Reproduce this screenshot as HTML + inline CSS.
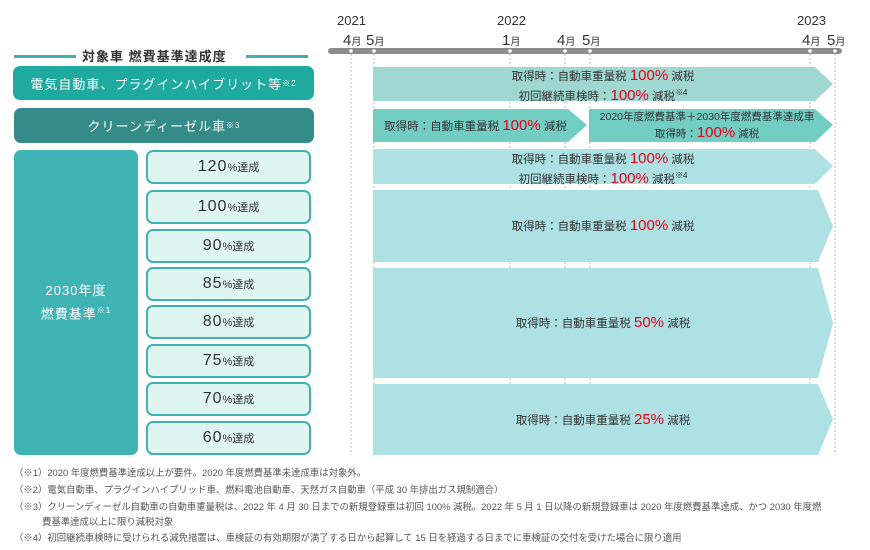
<!DOCTYPE html>
<html><head><meta charset="utf-8"><style>
body{margin:0;width:870px;height:550px;background:#fff;position:relative;overflow:hidden;font-family:"Liberation Sans","Noto Sans CJK JP",sans-serif;color:#333}
.a{position:absolute}
.box{position:absolute;color:#fff;display:flex;align-items:center;justify-content:center;border-radius:7px;font-size:13px;letter-spacing:1px}
.sm{position:absolute;left:146px;width:161px;height:30px;background:#dff5ef;border:2px solid #3fb1b0;border-radius:7px;display:flex;align-items:center;justify-content:center;font-size:16px;color:#333;letter-spacing:1px}
.sm small{font-size:11px;letter-spacing:0}
sup{font-size:8px}
.t{position:absolute;text-align:center;font-size:11.5px;color:#333;line-height:15px}
.r{color:#e6001a;font-size:15px}
.fn{position:absolute;left:14px;font-size:9.4px;color:#555;white-space:nowrap}
</style></head><body>
<svg class="a" style="left:0;top:0" width="870" height="460">
<rect x="328" y="48" width="514" height="6" rx="3" fill="#8c8c8c"/>
<g id="ticks"></g>
<polygon points="373,67 815,67 833,84 815,101 373,101" fill="#9fd8d1"/>
<polygon points="373,109 568,109 587,125 568,142 373,142" fill="#72cec3"/>
<polygon points="589,109 815,109 833,125 815,142 589,142" fill="#72cec3"/>
<polygon points="373,149 815,149 833,166 815,184 373,184" fill="#ade1e3"/>
<polygon points="373,190 818,190 833,226 818,262 373,262" fill="#ade1e3"/>
<polygon points="373,268 818,268 833,323 818,378 373,378" fill="#ade1e3"/>
<polygon points="373,384 818,384 833,419 818,455 373,455" fill="#ade1e3"/>
</svg>
<script>
const tickX=[351,374,510,565,590,810,835];
const tickLabels=["4","5","1","4","5","4","5"];
const g=document.getElementById('ticks');
tickX.forEach((x,i)=>{
 const l=document.createElementNS('http://www.w3.org/2000/svg','line');
 
 
 l.setAttribute('x1',x);l.setAttribute('x2',x);l.setAttribute('y1',54);l.setAttribute('y2',455);
 l.setAttribute('stroke','#bbb');l.setAttribute('stroke-dasharray','2,2');l.setAttribute('stroke-width','1');
 g.appendChild(l);
 const c=document.createElementNS('http://www.w3.org/2000/svg','circle');
 
 
 c.setAttribute('cx',x);c.setAttribute('cy',51);c.setAttribute('r',1.8);c.setAttribute('fill','#fff');
 g.appendChild(c);
 const t=document.createElement('div');
 
 
 t.className='a';t.style.cssText='top:32px;font-size:15px;left:'+(x-8)+'px;white-space:nowrap';
 t.innerHTML=tickLabels[i]+'<span style="font-size:10px">月</span>';
 document.body.appendChild(t);
});
</script>
<div class="a" style="left:337px;top:13px;font-size:13px">2021</div>
<div class="a" style="left:497px;top:13px;font-size:13px">2022</div>
<div class="a" style="left:797px;top:13px;font-size:13px">2023</div>

<div class="a" style="left:14px;top:55px;width:62px;height:3px;background:#3fb1b0"></div>
<div class="a" style="left:246px;top:55px;width:62px;height:3px;background:#3fb1b0"></div>
<div class="a" style="left:82px;top:46px;font-size:13px;font-weight:bold;letter-spacing:1px">対象車 燃費基準達成度</div>

<div class="box" style="left:13px;top:66px;width:301px;height:34px;background:#1faaa0">電気自動車、プラグインハイブリット等<sup>※2</sup></div>
<div class="box" style="left:14px;top:108px;width:300px;height:35px;background:#358b88">クリーンディーゼル車<sup>※3</sup></div>
<div class="box" style="left:14px;top:150px;width:124px;height:305px;background:#40b3b5;flex-direction:column;line-height:20px"><div>2030年度</div><div>燃費基準<sup>※1</sup></div></div>

<div class="sm" style="top:150px">120<small>%達成</small></div>
<div class="sm" style="top:190px">100<small>%達成</small></div>
<div class="sm" style="top:229px">90<small>%達成</small></div>
<div class="sm" style="top:267px">85<small>%達成</small></div>
<div class="sm" style="top:305px">80<small>%達成</small></div>
<div class="sm" style="top:344px">75<small>%達成</small></div>
<div class="sm" style="top:382px">70<small>%達成</small></div>
<div class="sm" style="top:421px">60<small>%達成</small></div>

<div class="t" style="left:373px;width:460px;top:68px">取得時：自動車重量税 <span class="r">100%</span> 減税<br>初回継続車検時：<span class="r">100%</span> 減税<sup>※4</sup></div>
<div class="t" style="left:373px;width:205px;top:118px">取得時：自動車重量税 <span class="r">100%</span> 減税</div>
<div class="t" style="left:589px;width:236px;top:110px;font-size:10.5px">2020年度燃費基準＋2030年度燃費基準達成車<br>取得時：<span class="r">100%</span> 減税</div>
<div class="t" style="left:373px;width:460px;top:151px">取得時：自動車重量税 <span class="r">100%</span> 減税<br>初回継続車検時：<span class="r">100%</span> 減税<sup>※4</sup></div>
<div class="t" style="left:373px;width:460px;top:218px">取得時：自動車重量税 <span class="r">100%</span> 減税</div>
<div class="t" style="left:373px;width:460px;top:315px">取得時：自動車重量税 <span class="r">50%</span> 減税</div>
<div class="t" style="left:373px;width:460px;top:412px">取得時：自動車重量税 <span class="r">25%</span> 減税</div>

<div class="fn" style="top:465px">（※1）2020 年度燃費基準達成以上が要件。2020 年度燃費基準未達成車は対象外。</div>
<div class="fn" style="top:482px">（※2）電気自動車、プラグインハイブリッド車、燃料電池自動車、天然ガス自動車（平成 30 年排出ガス規制適合）</div>
<div class="fn" style="top:499px">（※3）クリーンディーゼル自動車の自動車重量税は、2022 年 4 月 30 日までの新規登録車は初回 100% 減税。2022 年 5 月 1 日以降の新規登録車は 2020 年度燃費基準達成、かつ 2030 年度燃</div>
<div class="fn" style="top:514px;left:42px">費基準達成以上に限り減税対象</div>
<div class="fn" style="top:530px">（※4）初回継続車検時に受けられる減免措置は、車検証の有効期限が満了する日から起算して 15 日を経過する日までに車検証の交付を受けた場合に限り適用</div>
</body></html>
